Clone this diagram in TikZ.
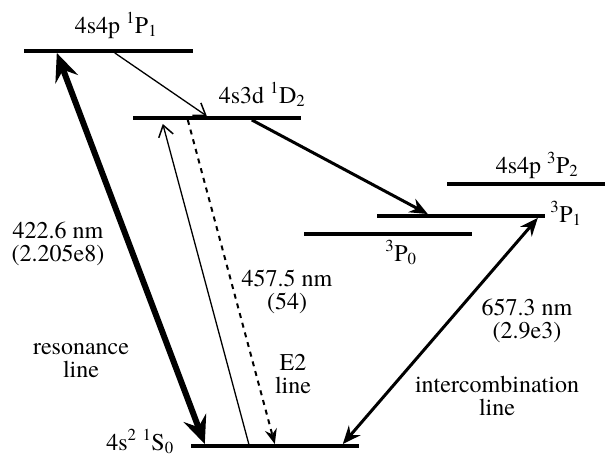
\documentclass[tikz,border=0pt]{standalone}
\usepackage{fontspec}
\setmainfont{texgyretermes-regular.otf}
\usetikzlibrary{arrows.meta}

\begin{document}
\begin{tikzpicture}[x=1pt, y=-1pt,
    level/.style={fill=black, inner sep=0pt, minimum height=3.5pt, minimum width=168pt},
    lbl/.style={font=\fontsize{24}{23}\selectfont, inner sep=0pt, align=center},
    heavyarr/.style={line width=6pt, {Stealth[length=28pt,width=24pt,inset=10pt]}-{Stealth[length=28pt,width=24pt,inset=10pt]}},
    medarr/.style={line width=3pt, -{Stealth[length=18pt,width=15pt,inset=6pt]}},
    thinarr/.style={line width=1.3pt, -{Straight Barb[length=11pt,width=15pt,line width=1.5pt]}},
    dasharr/.style={line width=2pt, dash pattern=on 5pt off 5pt, -{Stealth[length=15pt,width=12pt,inset=5pt]}}
]
\useasboundingbox (0,0) rectangle (605,458);

\node[level, minimum width=169pt] (p1s) at (108.5,51) {};
\node[level] (d2) at (217,118) {};
\node[level, minimum width=158pt] (p2t) at (526,184) {};
\node[level] (p1t) at (461,216) {};
\node[level] (p0t) at (388,234) {};
\node[level] (s0) at (275,446) {};

\node[lbl, anchor=base] (p1slbl) at (116,33) {4s4p \textsuperscript{1}P\textsubscript{1}};
\node[lbl, anchor=base] (d2lbl) at (262,103) {4s3d \textsuperscript{1}D\textsubscript{2}};
\node[lbl, anchor=base] (p2tlbl) at (537,173) {4s4p \textsuperscript{3}P\textsubscript{2}};
\node[lbl, anchor=base] (p1tlbl) at (566,222) {\textsuperscript{3}P\textsubscript{1}};
\node[lbl, anchor=base] (p0tlbl) at (401,261) {\textsuperscript{3}P\textsubscript{0}};
\node[lbl, anchor=base] (s0lbl) at (140,450) {4s\textsuperscript{2} \textsuperscript{1}S\textsubscript{0}};

\node[lbl] (reslbl) at (58,244) {422.6 nm\\(2.205e8)};
\node[lbl] (resname) at (81,361) {resonance\\line};
\node[lbl] (e2lbl) at (287,292) {457.5 nm\\(54)};
\node[lbl] (e2name) at (293,374) {E2\\line};
\node[lbl] (iclbl) at (527,321) {657.3 nm\\(2.9e3)};
\node[lbl] (icname) at (497,396) {intercombination\\line};

\draw[heavyarr] ([xshift=33pt]p1s.south west) -- ([xshift=14pt]s0.north west);
\draw[thinarr] ([xshift=91pt]p1s.south west) -- ([xshift=74pt]d2.north west);
\draw[thinarr] ([xshift=58pt]s0.north west) -- ([xshift=30pt,yshift=-4pt]d2.south west);
\draw[dasharr] ([xshift=55pt]d2.south west) -- ([xshift=84pt]s0.north west);
\draw[medarr] ([xshift=119pt]d2.south west) -- ([xshift=51pt]p1t.north west);
\draw[medarr, {Stealth[length=18pt,width=15pt,inset=6pt]}-{Stealth[length=18pt,width=15pt,inset=6pt]}] ([xshift=152pt]s0.north west) -- ([xshift=161pt]p1t.south west);
\end{tikzpicture}
\end{document}
